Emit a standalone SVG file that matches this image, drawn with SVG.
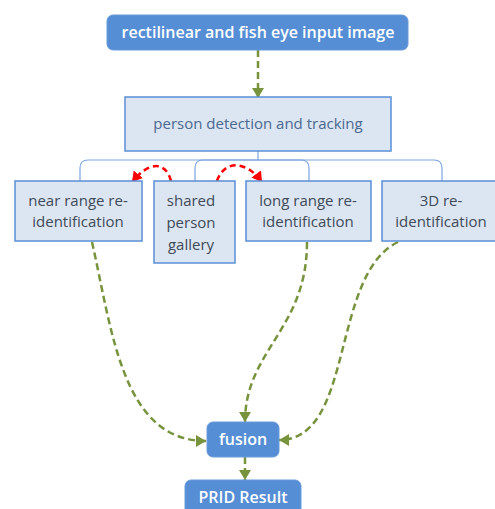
<svg xmlns="http://www.w3.org/2000/svg" width="495" height="509" viewBox="0 0 495 509">
<defs>
<style>
.dark{fill:#558ED5;stroke:#6A9BDA;stroke-width:1}
.light{fill:#DCE6F2;stroke:#5B8FD6;stroke-width:1.5}
.tw{font-family:"Open Sans","Noto Sans",sans-serif;font-weight:600;font-size:16px;fill:#FFFFFF;text-anchor:middle}
.tl{font-family:"Open Sans","Noto Sans",sans-serif;font-size:15px;fill:#404A58;text-anchor:middle}
.tp{font-family:"Open Sans","Noto Sans",sans-serif;font-size:15px;fill:#4A6890;text-anchor:middle}
.g{fill:none;stroke:#77933C;stroke-width:2.5;stroke-dasharray:7 4}
.r{fill:none;stroke:#FF0000;stroke-width:2.5;stroke-dasharray:6 4}
.b{fill:none;stroke:#7AA6E0;stroke-width:1.2}
</style>
<marker id="ag" markerUnits="userSpaceOnUse" markerWidth="14" markerHeight="14" refX="10" refY="6" orient="auto"><path d="M0,0 L10,6 L0,12 Z" fill="#77933C"/></marker>
<marker id="ar" markerUnits="userSpaceOnUse" markerWidth="14" markerHeight="14" refX="10" refY="6" orient="auto"><path d="M0,0 L10,6 L0,12 Z" fill="#FF0000"/></marker>
</defs>
<g id="connectors">
<path class="b" d="M258,151 V160"/>
<path class="b" d="M80,181 V168 Q80,160 88,160 H434 Q442,160 442,168 V181"/>
<path class="b" d="M195,181 V168 Q195,160 203,160 H301 Q309,160 309,168 V181"/>
<path class="g" d="M258,50 V98" marker-end="url(#ag)"/>
<path class="r" d="M171,181 C166,162 150,160 132,182" marker-end="url(#ar)"/>
<path class="r" d="M217,181 C224,160 246,160 262,182" marker-end="url(#ar)"/>
<path class="g" d="M92,242 C112,330 122,441 206,441" marker-end="url(#ag)"/>
<path class="g" d="M307,242 C307,330 245,350 245,422" marker-end="url(#ag)"/>
<path class="g" d="M398,242 C330,275 355,440 279,440" marker-end="url(#ag)"/>
<path class="g" d="M245,457 V480" marker-end="url(#ag)"/>
</g>
<g id="input">
<rect class="dark" x="107" y="15" width="301" height="35" rx="6"/>
<text class="tw" x="258" y="38">rectilinear and fish eye input image</text>
</g>
<g id="detection">
<rect class="light" x="125" y="97" width="266" height="54"/>
<text class="tp" x="258" y="129">person detection and tracking</text>
</g>
<g id="near">
<rect class="light" x="15" y="181" width="127" height="60"/>
<text class="tl" x="78" y="206">near range re-</text>
<text class="tl" x="78" y="227">identification</text>
</g>
<g id="gallery">
<rect class="light" x="154" y="181" width="81" height="82"/>
<text class="tl" x="191" y="206">shared</text>
<text class="tl" x="191" y="228">person</text>
<text class="tl" x="191" y="250">gallery</text>
</g>
<g id="long">
<rect class="light" x="246" y="181" width="125" height="60"/>
<text class="tl" x="308" y="206">long range re-</text>
<text class="tl" x="308" y="227">identification</text>
</g>
<g id="threeD">
<rect class="light" x="382" y="181" width="125" height="60"/>
<text class="tl" x="441" y="206">3D re-</text>
<text class="tl" x="441" y="227">identification</text>
</g>
<g id="fusion">
<rect class="dark" x="207" y="422" width="72" height="35" rx="6"/>
<text class="tw" x="243" y="445">fusion</text>
</g>
<g id="result">
<rect class="dark" x="185" y="480" width="116" height="40" rx="6"/>
<text class="tw" x="243" y="503">PRID Result</text>
</g>
</svg>
